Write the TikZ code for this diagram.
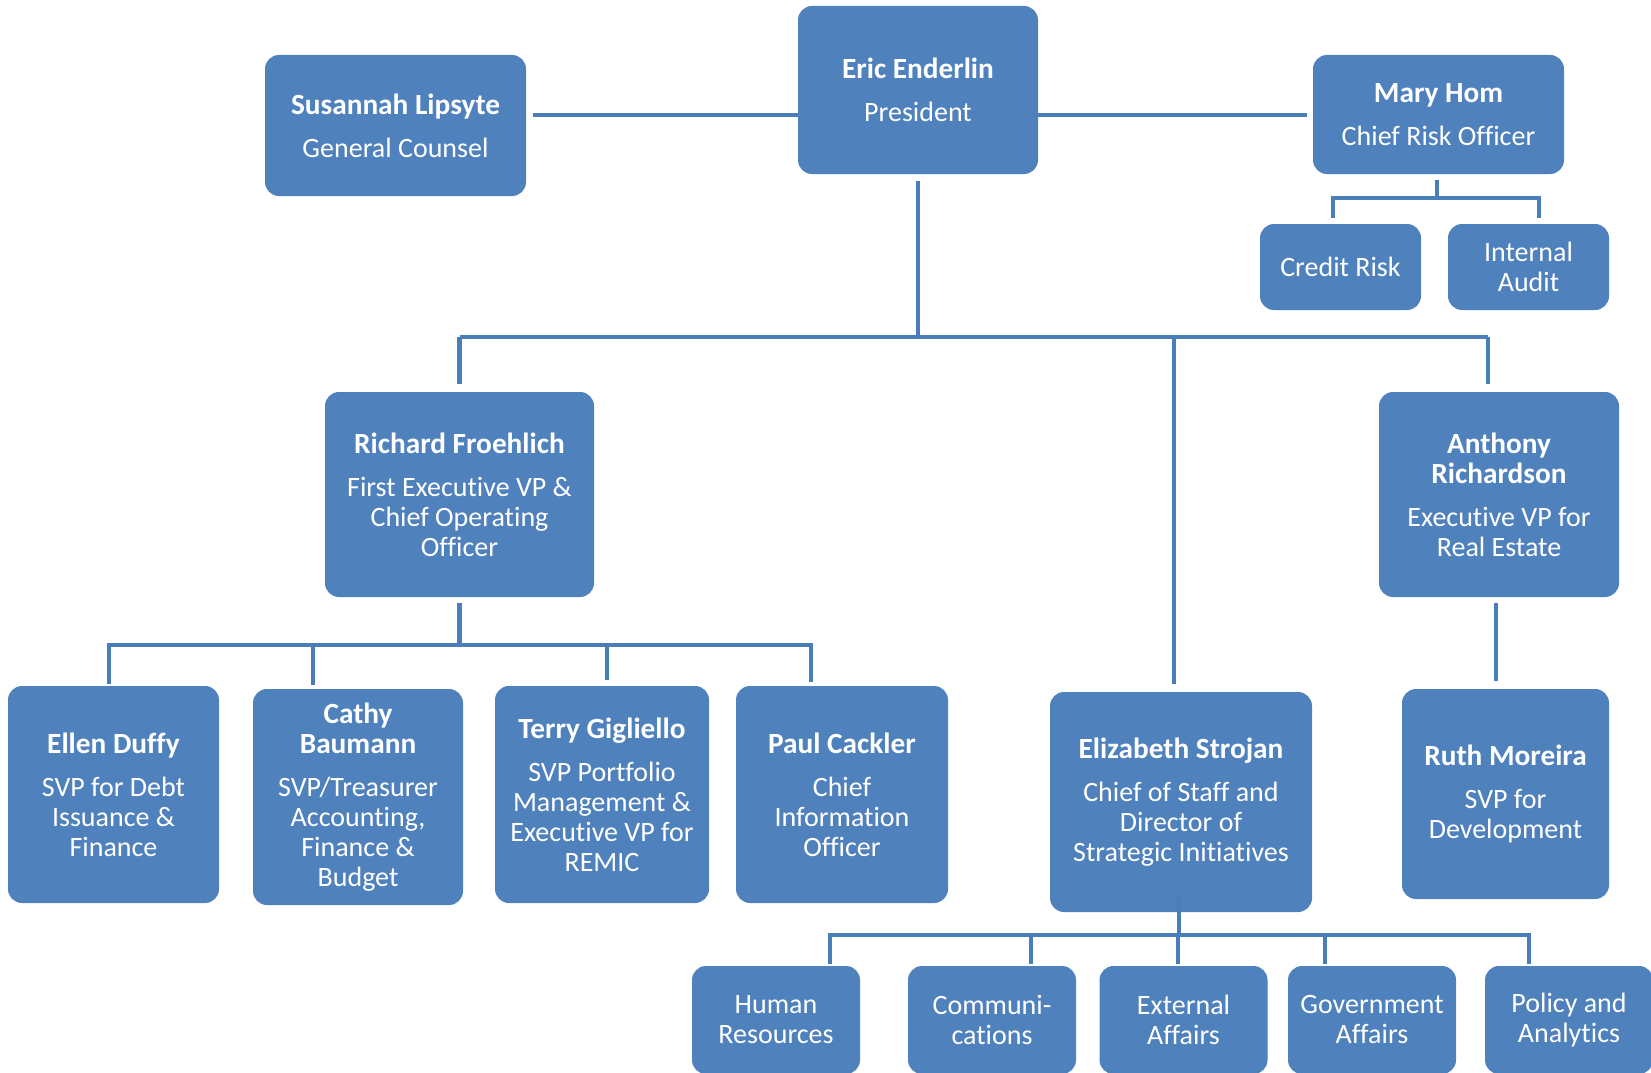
\documentclass[tikz,border=0pt]{standalone}
\usepackage{fontspec}
\setmainfont{Carlito}[Ligatures=NoCommon]
\usetikzlibrary{backgrounds}
\definecolor{boxblue}{HTML}{4F81BD}
\definecolor{lineblue}{HTML}{4A7EBB}
\newcommand\nmf{\fontsize{29.3}{31}\selectfont\bfseries}
\begin{document}
\begin{tikzpicture}[x=1pt,y=-1pt,
  box/.style={fill=boxblue, rounded corners=14pt, text=white, align=center,
    inner sep=0pt, font=\fontsize{28}{30}\selectfont},
  conn/.style={draw=lineblue, line width=4.5pt}]
\useasboundingbox (0,0) rectangle (1651,1073);
\clip (0,0) rectangle (1651,1073);

% helper coordinates
\coordinate (ytop) at (0,115);
\coordinate (busA) at (918,337);
\coordinate (busB) at (459.5,645);
\coordinate (busC) at (1179,935);
\coordinate (busM) at (1437,198);

% boxes
\node[box, minimum width=261, minimum height=141] (Susannah) at (395.5,125.5)
  {{\nmf Susannah Lipsyte}\\[13pt]General Counsel};
\node[box, minimum width=240, minimum height=168] (Eric) at (918,90)
  {{\nmf Eric Enderlin}\\[13pt]President};
\node[box, minimum width=251, minimum height=119] (Mary) at (1438.5,114.5)
  {{\nmf Mary Hom}\\[13pt]Chief Risk Officer};
\node[box, minimum width=161, minimum height=86] (Credit) at (1340.5,267)
  {Credit Risk};
\node[box, minimum width=161, minimum height=86] (Internal) at (1528.5,267)
  {Internal\\Audit};
\node[box, minimum width=269, minimum height=205] (Richard) at (459.5,494.5)
  {{\nmf Richard Froehlich}\\[13pt]First Executive VP \&\\Chief Operating\\Officer};
\node[box, minimum width=240, minimum height=205] (Anthony) at (1499,494.5)
  {{\nmf Anthony}\\{\nmf Richardson}\\[13pt]Executive VP for\\Real Estate};
\node[box, minimum width=211, minimum height=217] (Ellen) at (113.5,794.5)
  {{\nmf Ellen Duffy}\\[13pt]SVP for Debt\\Issuance \&\\Finance};
\node[box, minimum width=210, minimum height=216] (Cathy) at (358,797)
  {{\nmf Cathy}\\{\nmf Baumann}\\[13pt]SVP/Treasurer\\Accounting,\\Finance \&\\Budget};
\node[box, minimum width=214, minimum height=217] (Terry) at (602,794.5)
  {{\nmf Terry Gigliello}\\[13pt]SVP Portfolio\\Management \&\\Executive VP for\\REMIC};
\node[box, minimum width=212, minimum height=217] (Paul) at (842,794.5)
  {{\nmf Paul Cackler}\\[13pt]Chief\\Information\\Officer};
\node[box, minimum width=262, minimum height=220] (Eliz) at (1181,802)
  {{\nmf Elizabeth Strojan}\\[13pt]Chief of Staff and\\Director of\\Strategic Initiatives};
\node[box, minimum width=207, minimum height=210] (Ruth) at (1505.5,794)
  {{\nmf Ruth Moreira}\\[13pt]SVP for\\Development};
\node[box, minimum width=168, minimum height=108] (HR) at (776,1020)
  {Human\\Resources};
\node[box, minimum width=168, minimum height=108] (Comm) at (992,1020)
  {Communi-\\cations};
\node[box, minimum width=168, minimum height=108] (Ext) at (1183.5,1020)
  {External\\Affairs};
\node[box, minimum width=168, minimum height=108] (Gov) at (1372,1020)
  {Government\\Affairs};
\node[box, minimum width=168, minimum height=108] (Policy) at (1569,1020)
  {Policy and\\Analytics};

% connectors (behind boxes)
\begin{pgfonlayer}{background}
\fill[white] (0,0) rectangle (1651,1073);
\draw[conn, shorten <=7pt] (Susannah.east |- ytop) -- (Eric.west |- ytop);
\draw[conn, shorten >=6pt] (Eric.east |- ytop) -- (Mary.west |- ytop);
\draw[conn, shorten <=7pt] (Eric.south) -- (busA);
\draw[conn] (Richard.north |- busA) -- ([xshift=-11pt]Anthony.north |- busA);
\draw[conn, shorten >=8pt] (Richard.north |- busA) -- (Richard.north);
\draw[conn, shorten >=8pt] ([xshift=-11pt]Anthony.north |- busA) -- ([xshift=-11pt]Anthony.north);
\draw[conn, shorten >=8pt] ([xshift=-7pt]Eliz.north |- busA) -- ([xshift=-7pt]Eliz.north);
% Mary's group
\draw[conn, shorten <=6pt] ([xshift=-1.5pt]Mary.south) -- (busM);
\draw[conn] ([xshift=-7.5pt,yshift=6pt]Credit.north) |- (busM) -| ([xshift=10.5pt,yshift=6pt]Internal.north);
% Richard's group
\draw[conn, shorten <=6pt] (Richard.south) -- (busB);
\draw[conn] ([xshift=-4.5pt,yshift=2pt]Ellen.north) |- (busB) -| ([xshift=-31pt,yshift=4pt]Paul.north);
\draw[conn] ([xshift=-45pt,yshift=4pt]Cathy.north) -- ([xshift=-45pt]Cathy.north |- busB);
\draw[conn] ([xshift=5pt,yshift=6pt]Terry.north) -- ([xshift=5pt]Terry.north |- busB);
% Anthony to Ruth
\draw[conn, shorten <=6pt, shorten >=8pt] ([xshift=-3pt]Anthony.south) -- ([xshift=-3pt]Anthony.south |- Ruth.north);
% Elizabeth's group
\draw[conn] ([xshift=54pt,yshift=2pt]HR.north) |- (busC) -| ([xshift=-40pt,yshift=2pt]Policy.north);
\draw[conn] ([xshift=39pt,yshift=2pt]Comm.north) -- ([xshift=39pt]Comm.north |- busC);
\draw[conn] ([xshift=-5.5pt,yshift=2pt]Ext.north) -- ([xshift=-5.5pt]Ext.north |- busC);
\draw[conn] ([xshift=-47pt,yshift=2pt]Gov.north) -- ([xshift=-47pt]Gov.north |- busC);
\end{pgfonlayer}
\draw[conn] ([xshift=-2pt,yshift=15pt]Eliz.south) -- (busC);
\end{tikzpicture}
\end{document}
